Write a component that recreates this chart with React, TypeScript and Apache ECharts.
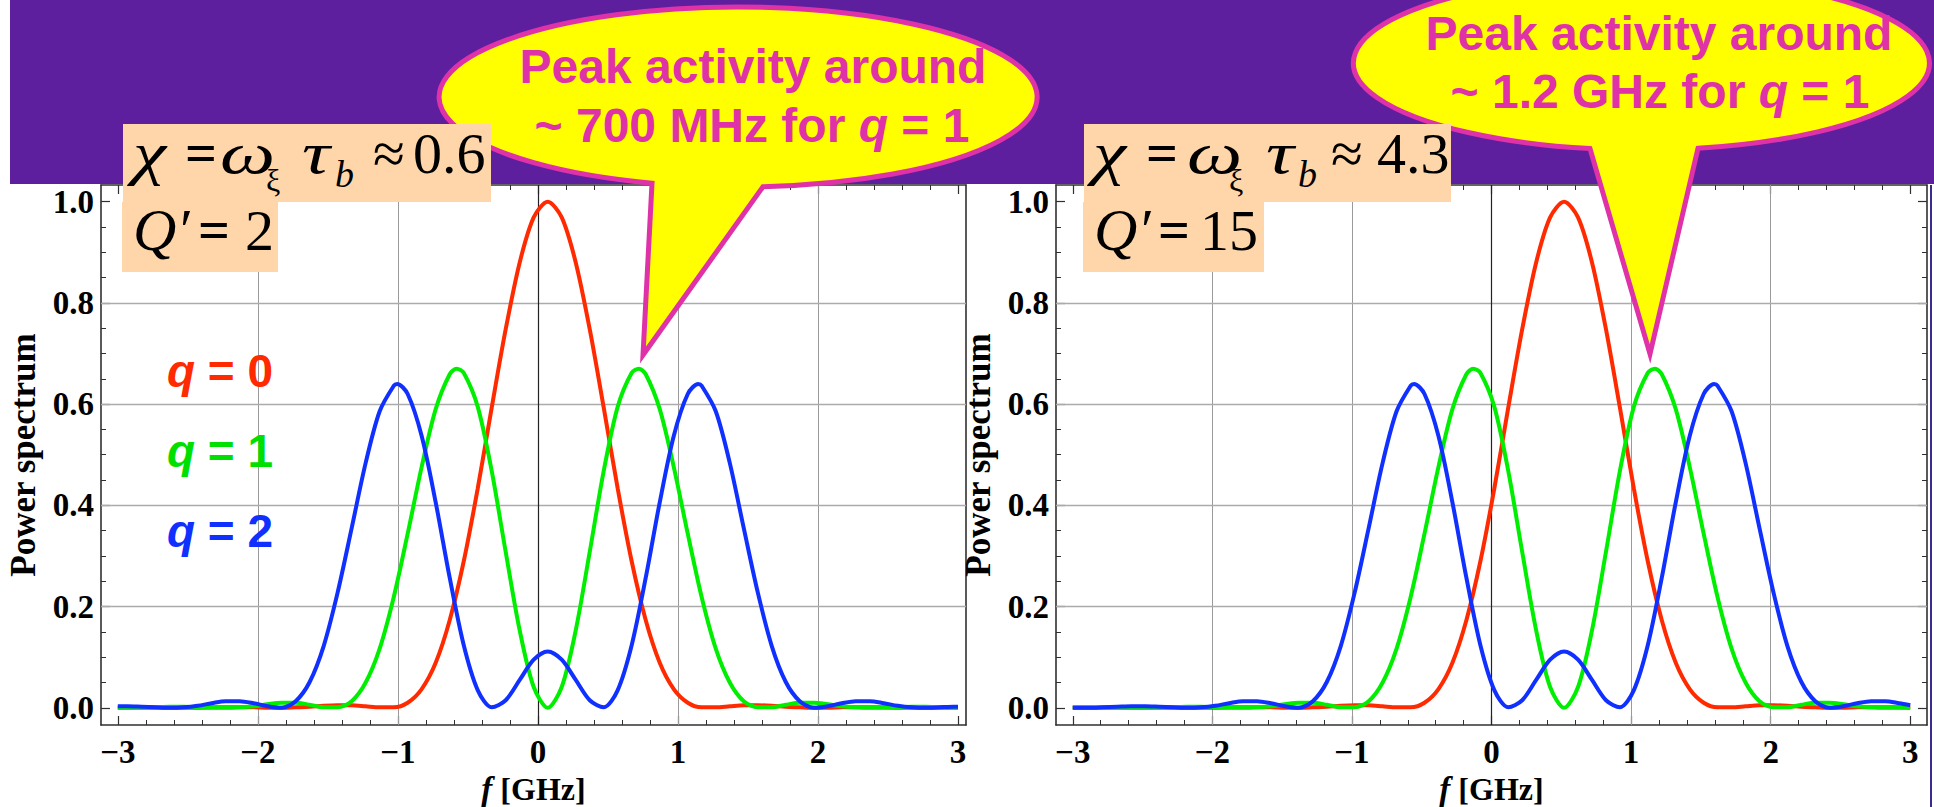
import React, { useEffect, useRef } from "react";
import * as echarts from "echarts";

// ---------- data ----------
const freqLeft = [
  -3, -2.93, -2.83, -2.73, -2.63, -2.53, -2.43, -2.33, -2.23, -2.13,
  -2.03, -1.93, -1.83, -1.73, -1.63, -1.53, -1.43, -1.33, -1.23, -1.13,
  -1.03, -0.93, -0.83, -0.73, -0.63, -0.53, -0.43, -0.33, -0.23, -0.13,
  -0.03, 0.07, 0.17, 0.27, 0.37, 0.47, 0.57, 0.67, 0.77, 0.87,
  0.97, 1.07, 1.17, 1.27, 1.37, 1.47, 1.57, 1.67, 1.77, 1.87,
  1.97, 2.07, 2.17, 2.27, 2.37, 2.47, 2.57, 2.67, 2.77, 2.87,
  2.97, 3,
];
const q0Left = [
  0, 0, 0, 0, 0, 0, 0, 0.001, 0.001, 0.001,
  0.001, 0, 0, 0.001, 0.002, 0.004, 0.005, 0.005, 0.003, 0.001,
  0.001, 0.01, 0.037, 0.089, 0.173, 0.289, 0.433, 0.593, 0.748, 0.88,
  0.969, 1, 0.969, 0.88, 0.748, 0.593, 0.433, 0.289, 0.173, 0.089,
  0.037, 0.01, 0.001, 0.001, 0.003, 0.005, 0.005, 0.004, 0.002, 0.001,
  0, 0, 0.001, 0.001, 0.001, 0.001, 0, 0, 0, 0,
  0, 0,
];
const q1Left = [
  0, 0, 0.001, 0.001, 0.002, 0.002, 0.001, 0, 0, 0.001,
  0.003, 0.007, 0.01, 0.01, 0.006, 0.001, 0.001, 0.013, 0.05, 0.117,
  0.218, 0.344, 0.476, 0.59, 0.659, 0.662, 0.595, 0.468, 0.308, 0.153,
  0.041, 0, 0.041, 0.153, 0.308, 0.468, 0.595, 0.662, 0.659, 0.59,
  0.476, 0.344, 0.218, 0.117, 0.05, 0.013, 0.001, 0.001, 0.006, 0.01,
  0.01, 0.007, 0.003, 0.001, 0, 0, 0.001, 0.002, 0.002, 0.001,
  0.001, 0.001,
];
const q2Left = [
  0.003, 0.003, 0.002, 0.001, 0, 0.001, 0.004, 0.009, 0.013, 0.013,
  0.009, 0.003, 0, 0.013, 0.051, 0.122, 0.228, 0.355, 0.484, 0.586,
  0.636, 0.62, 0.537, 0.406, 0.257, 0.124, 0.035, 0.001, 0.015, 0.055,
  0.095, 0.111, 0.095, 0.055, 0.015, 0.001, 0.035, 0.124, 0.257, 0.406,
  0.537, 0.62, 0.636, 0.586, 0.484, 0.355, 0.228, 0.122, 0.051, 0.013,
  0, 0.003, 0.009, 0.013, 0.013, 0.009, 0.004, 0.001, 0, 0.001,
  0.002, 0.002,
];
// peak tops: [f, value]
const q1PeaksLeft = [[-0.58, 0.67], [0.72, 0.67]];
const q2PeaksLeft = [[-1.005, 0.64], [1.145, 0.64]];

const freqRight = [
  -3, -2.98, -2.88, -2.78, -2.68, -2.58, -2.48, -2.38, -2.28, -2.18,
  -2.08, -1.98, -1.88, -1.78, -1.68, -1.58, -1.48, -1.38, -1.28, -1.18,
  -1.08, -0.98, -0.88, -0.78, -0.68, -0.58, -0.48, -0.38, -0.28, -0.18,
  -0.08, 0.02, 0.12, 0.22, 0.32, 0.42, 0.52, 0.62, 0.72, 0.82,
  0.92, 1.02, 1.12, 1.22, 1.32, 1.42, 1.52, 1.62, 1.72, 1.82,
  1.92, 2.02, 2.12, 2.22, 2.32, 2.42, 2.52, 2.62, 2.72, 2.82,
  2.92, 3,
];
const q0Right = [
  0, 0, 0, 0, 0, 0, 0, 0, 0, 0,
  0, 0, 0.001, 0.001, 0.001, 0.001, 0, 0, 0.001, 0.002,
  0.004, 0.005, 0.005, 0.003, 0.001, 0.001, 0.01, 0.037, 0.089, 0.173,
  0.289, 0.433, 0.593, 0.748, 0.88, 0.969, 1, 0.969, 0.88, 0.748,
  0.593, 0.433, 0.289, 0.173, 0.089, 0.037, 0.01, 0.001, 0.001, 0.003,
  0.005, 0.005, 0.004, 0.002, 0.001, 0, 0, 0.001, 0.001, 0.001,
  0.001, 0,
];
const q1Right = [
  0.001, 0.001, 0.001, 0.001, 0, 0, 0, 0.001, 0.001, 0.002,
  0.002, 0.001, 0, 0, 0.001, 0.003, 0.007, 0.01, 0.01, 0.006,
  0.001, 0.001, 0.013, 0.05, 0.117, 0.218, 0.344, 0.476, 0.59, 0.659,
  0.662, 0.595, 0.468, 0.308, 0.153, 0.041, 0, 0.041, 0.153, 0.308,
  0.468, 0.595, 0.662, 0.659, 0.59, 0.476, 0.344, 0.218, 0.117, 0.05,
  0.013, 0.001, 0.001, 0.006, 0.01, 0.01, 0.007, 0.003, 0.001, 0,
  0, 0.001,
];
const q2Right = [
  0, 0, 0, 0.001, 0.002, 0.003, 0.003, 0.002, 0.001, 0,
  0.001, 0.004, 0.009, 0.013, 0.013, 0.009, 0.003, 0, 0.013, 0.051,
  0.122, 0.228, 0.355, 0.484, 0.586, 0.636, 0.62, 0.537, 0.406, 0.257,
  0.124, 0.035, 0.001, 0.015, 0.055, 0.095, 0.111, 0.095, 0.055, 0.015,
  0.001, 0.035, 0.124, 0.257, 0.406, 0.537, 0.62, 0.636, 0.586, 0.484,
  0.355, 0.228, 0.122, 0.051, 0.013, 0, 0.003, 0.009, 0.013, 0.013,
  0.009, 0.005,
];
const q1PeaksRight = [[-0.13, 0.67], [1.17, 0.67]];
const q2PeaksRight = [[-0.555, 0.64], [1.595, 0.64]];

const xMajorTicks = [-3, -2, -1, 0, 1, 2, 3];
const xMinorTicks = [
  -2.8, -2.6, -2.4, -2.2, -1.8, -1.6, -1.4, -1.2, -0.8, -0.6, -0.4, -0.2,
  0.2, 0.4, 0.6, 0.8, 1.2, 1.4, 1.6, 1.8, 2.2, 2.4, 2.6, 2.8,
];
const yMajorTicks = [0, 0.2, 0.4, 0.6, 0.8, 1.0];
const yMinorTicks = [0.05, 0.1, 0.15, 0.25, 0.3, 0.35, 0.45, 0.5, 0.55, 0.65, 0.7, 0.75, 0.85, 0.9, 0.95];
const xGridLines = [-2, -1, 1, 2];
const yGridLines = [0.2, 0.4, 0.6, 0.8];

const seriesNames = ["q = 0", "q = 1", "q = 2"];

// ---------- styles ----------
const SERIF = "'Liberation Serif', 'Times New Roman', Times, serif";
const SANS = "'Liberation Sans', Arial, Helvetica, sans-serif";
const FRAME = "#303030";
const RED = "#FF2A00";
const GREEN = "#00EE00";
const BLUE = "#1030FF";
const MAGENTA = "#E032A8";
const PEACH = "#FFD6AA";
const TICK_FONT = 33;

const fmtX = (v: number) => (v < 0 ? "\u2212" + Math.abs(v) : String(v));
const fmtY = (v: number) => v.toFixed(1);

function buildXAxes(gridIndex: number, min: number, max: number) {
  const base: any = { type: "value", gridIndex, min, max, splitLine: { show: false } };
  const major = { show: true, inside: true, length: 9, customValues: xMajorTicks, lineStyle: { color: FRAME, width: 1.2 } };
  const minor = { show: true, inside: true, length: 5, customValues: xMinorTicks, lineStyle: { color: FRAME, width: 1 } };
  return [
    {
      ...base,
      position: "bottom",
      axisLine: { show: true, onZero: false, lineStyle: { color: FRAME, width: 1.6 } },
      axisTick: major,
      axisLabel: {
        show: true, customValues: xMajorTicks, formatter: fmtX, margin: 10,
        color: "#000", fontFamily: SERIF, fontWeight: "bold", fontSize: TICK_FONT,
      },
      name: "{i|f} {n|[GHz]}",
      nameLocation: "middle",
      nameGap: 41,
      nameTextStyle: {
        color: "#000", fontFamily: SERIF, fontWeight: "bold", fontSize: 32,
        rich: {
          i: { color: "#000", fontFamily: SERIF, fontStyle: "italic", fontWeight: "bold", fontSize: 33 },
          n: { color: "#000", fontFamily: SERIF, fontWeight: "bold", fontSize: 32 },
        },
      },
    },
    { ...base, position: "bottom", axisLine: { show: false, onZero: false }, axisTick: minor, axisLabel: { show: false } },
    {
      ...base, position: "top",
      axisLine: { show: true, onZero: false, lineStyle: { color: FRAME, width: 1.6 } },
      axisTick: major, axisLabel: { show: false },
    },
    { ...base, position: "top", axisLine: { show: false, onZero: false }, axisTick: minor, axisLabel: { show: false } },
  ];
}

function buildYAxes(gridIndex: number, rightTicks: boolean) {
  const base: any = { type: "value", gridIndex, min: -0.034, max: 1.033, splitLine: { show: false } };
  const major = { show: true, inside: true, length: 9, customValues: yMajorTicks, lineStyle: { color: FRAME, width: 1.2 } };
  const minor = { show: true, inside: true, length: 5, customValues: yMinorTicks, lineStyle: { color: FRAME, width: 1 } };
  return [
    {
      ...base,
      position: "left",
      axisLine: { show: true, onZero: false, lineStyle: { color: FRAME, width: 1.6 } },
      axisTick: major,
      axisLabel: {
        show: true, customValues: yMajorTicks, formatter: fmtY, margin: 7,
        color: "#000", fontFamily: SERIF, fontWeight: "bold", fontSize: TICK_FONT,
      },
      name: "Power spectrum",
      nameLocation: "middle",
      nameGap: 60,
      nameTextStyle: { color: "#000", fontFamily: SERIF, fontWeight: "bold", fontSize: 35 },
    },
    { ...base, position: "left", axisLine: { show: false, onZero: false }, axisTick: minor, axisLabel: { show: false } },
    {
      ...base, position: "right",
      axisLine: { show: true, onZero: false, lineStyle: { color: FRAME, width: 1.6 } },
      axisTick: rightTicks ? major : { show: false }, axisLabel: { show: false },
    },
    {
      ...base, position: "right", axisLine: { show: false, onZero: false },
      axisTick: rightTicks ? minor : { show: false }, axisLabel: { show: false },
    },
  ];
}

function buildSeries(
  panel: number, freq: number[], q0: number[], q1: number[], q2: number[],
  q1Peaks: number[][], q2Peaks: number[][]
) {
  const idx = panel * 4;
  const lines = [q0, q1, q2];
  const extras = [[], q1Peaks, q2Peaks];
  const colors = [RED, GREEN, BLUE];
  return lines.map((vals, k) => {
    const pts = freq.map((f, i) => [f, vals[i]]).concat(extras[k] as number[][]);
    pts.sort((a, b) => a[0] - b[0]);
    const s: any = {
      type: "line",
      name: seriesNames[k],
      xAxisIndex: idx,
      yAxisIndex: idx,
      data: pts,
      showSymbol: false,
      symbol: "none",
      smooth: 0.3,
      silent: true,
      z: 3 + k,
      lineStyle: { color: colors[k], width: 4 },
      itemStyle: { color: colors[k] },
    };
    if (k === 0) {
      s.markLine = {
        silent: true,
        z: 1,
        symbol: ["none", "none"],
        label: { show: false },
        lineStyle: { type: "solid" },
        data: [
          ...xGridLines.map((v) => ({ xAxis: v, lineStyle: { color: "#9a9a9a", width: 1, type: "solid" } })),
          ...yGridLines.map((v) => ({ yAxis: v, lineStyle: { color: "#ababab", width: 1.3, type: "solid" } })),
          { xAxis: 0, lineStyle: { color: "#222", width: 1.2, type: "solid" } },
        ],
      };
    }
    return s;
  });
}

function txt(text: string, x: number, y: number, size: number, family: string, opts: any = {}) {
  return {
    type: "text",
    x,
    y,
    scaleX: opts.scaleX || 1,
    scaleY: 1,
    z: 60,
    silent: true,
    style: {
      text,
      x: 0,
      y: 0,
      fill: opts.fill || "#000",
      fontSize: size,
      fontFamily: family,
      fontStyle: opts.italic ? "italic" : "normal",
      fontWeight: opts.bold ? "bold" : "normal",
      textAlign: opts.align || "left",
      align: opts.align || "left",
      textVerticalAlign: "middle",
      verticalAlign: "middle",
      rich: opts.rich,
    },
  };
}

function italicRich(size: number, family: string, fill: string) {
  return {
    i: { fill, color: fill, fontSize: size, fontFamily: family, fontStyle: "italic", fontWeight: "bold" },
  };
}

const calloutLeftPath = "M 652 183.2 A 299 90 0 1 1 763 186.7 L 643 355 Z";
const calloutRightPath = "M 1590 148.6 A 288 87 0 1 1 1698 148.3 L 1650 354 Z";

export default function App() {
  const ref = useRef<HTMLDivElement>(null);

  useEffect(() => {
    echarts.graphic.registerShape("calloutLeft", echarts.graphic.extendPath(calloutLeftPath, {}));
    echarts.graphic.registerShape("calloutRight", echarts.graphic.extendPath(calloutRightPath, {}));
    const chart = echarts.init(ref.current!, null, { renderer: "svg" });

    const chiRow = (xs: number[], value: string) => [
      txt("\u03C7", xs[0], 153, 60, SERIF, { italic: true, scaleX: 1.25 }),
      txt("=", xs[1], 153, 56, SERIF, { bold: true }),
      txt("\u03C9", xs[2], 153, 60, SERIF, { italic: true, scaleX: 1.3 }),
      txt("\u03BE", xs[3], 180, 32, SERIF),
      txt("\u03C4", xs[4], 153, 60, SERIF, { italic: true, scaleX: 1.3 }),
      txt("b", xs[5], 174, 38, SERIF, { italic: true }),
      txt("\u2248", xs[6], 153, 58, SERIF),
      txt(value, xs[7], 153, 58, SERIF),
    ];
    const qRow = (xs: number[], value: string) => [
      txt("Q\u2032", xs[0], 230, 60, SERIF, { italic: true }),
      txt("=", xs[1], 230, 56, SERIF, { bold: true }),
      txt(value, xs[2], 230, 58, SERIF),
    ];

    const elements: any[] = [
      { type: "rect", z: 0, silent: true, shape: { x: 10, y: 0, width: 1924, height: 184 }, style: { fill: "#5E1F9F" } },
      { type: "line", z: 0, silent: true, shape: { x1: 1931, y1: 185, x2: 1931, y2: 807 }, style: { stroke: "#3B2A8F", lineWidth: 2 } },
      { type: "calloutLeft", x: 0, y: 0, z: 20, silent: true, style: { fill: "#FFFF00", stroke: MAGENTA, lineWidth: 5 } },
      { type: "calloutRight", x: 0, y: 0, z: 20, silent: true, style: { fill: "#FFFF00", stroke: MAGENTA, lineWidth: 5 } },
      { type: "rect", z: 40, silent: true, shape: { x: 123, y: 124, width: 368, height: 78 }, style: { fill: PEACH } },
      { type: "rect", z: 40, silent: true, shape: { x: 122, y: 202, width: 156, height: 70 }, style: { fill: PEACH } },
      { type: "rect", z: 40, silent: true, shape: { x: 1084, y: 124, width: 367, height: 78 }, style: { fill: PEACH } },
      { type: "rect", z: 40, silent: true, shape: { x: 1083, y: 202, width: 181, height: 70 }, style: { fill: PEACH } },
      ...chiRow([133, 185, 220, 266, 302, 335, 373, 413], "0.6"),
      ...qRow([133, 198, 245], "2"),
      ...chiRow([1093, 1146, 1187, 1229, 1266, 1298, 1331, 1377], "4.3"),
      ...qRow([1094, 1158, 1200], "15"),
      txt("Peak activity around", 753, 66, 48, SANS, { bold: true, fill: MAGENTA, align: "center" }),
      txt("~ 700 MHz for {i|q} = 1", 752, 125, 48, SANS, { bold: true, fill: MAGENTA, align: "center", rich: italicRich(48, SANS, MAGENTA) }),
      txt("Peak activity around", 1659, 33, 48, SANS, { bold: true, fill: MAGENTA, align: "center" }),
      txt("~ 1.2 GHz for {i|q} = 1", 1660, 91, 48, SANS, { bold: true, fill: MAGENTA, align: "center", rich: italicRich(48, SANS, MAGENTA) }),
      txt("{i|q} = 0", 167, 371, 46, SANS, { bold: true, fill: RED, rich: italicRich(46, SANS, RED) }),
      txt("{i|q} = 1", 167, 451, 46, SANS, { bold: true, fill: "#00E000", rich: italicRich(46, SANS, "#00E000") }),
      txt("{i|q} = 2", 167, 531, 46, SANS, { bold: true, fill: BLUE, rich: italicRich(46, SANS, BLUE) }),
    ];

    const option: any = {
      animation: false,
      backgroundColor: "#ffffff",
      grid: [
        { left: 101, top: 185, width: 865, height: 540, containLabel: false, outerBoundsMode: "none" },
        { left: 1056, top: 185, width: 871, height: 540, containLabel: false, outerBoundsMode: "none" },
      ],
      xAxis: [...buildXAxes(0, -3.12, 3.057), ...buildXAxes(1, -3.12, 3.12)],
      yAxis: [...buildYAxes(0, false), ...buildYAxes(1, true)],
      series: [
        ...buildSeries(0, freqLeft, q0Left, q1Left, q2Left, q1PeaksLeft, q2PeaksLeft),
        ...buildSeries(1, freqRight, q0Right, q1Right, q2Right, q1PeaksRight, q2PeaksRight),
      ],
      graphic: { elements },
    };
    chart.setOption(option);
    return () => chart.dispose();
  }, []);

  return (
    <div
      ref={ref}
      style={{ position: "fixed", left: 0, top: 0, width: 1934, height: 807, background: "#fff" }}
    />
  );
}
